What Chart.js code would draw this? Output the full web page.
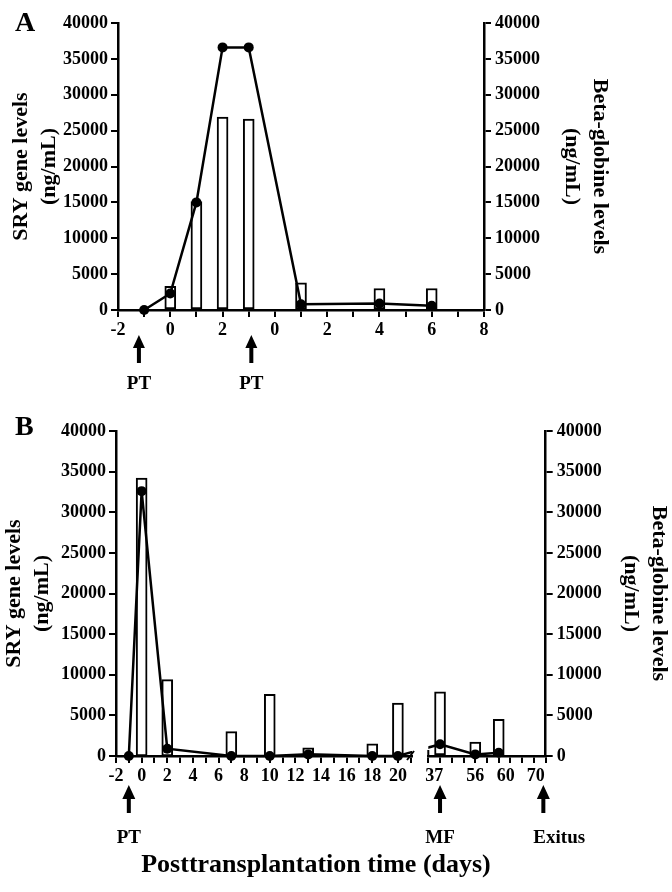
<!DOCTYPE html>
<html><head><meta charset="utf-8">
<script src="https://cdn.jsdelivr.net/npm/chart.js@4.4.1/dist/chart.umd.min.js"></script>
<style>
html,body{margin:0;padding:0;background:#fff;}
#wrap{position:relative;width:672px;height:892px;overflow:hidden;background:#fff;font-family:"Liberation Serif","Times New Roman",serif;font-weight:bold;color:#000;}
canvas{position:absolute;left:0;}
.lbl{position:absolute;line-height:1;white-space:nowrap;}
</style></head><body>
<div id="wrap">
<canvas id="cA" width="672" height="400" style="top:0"></canvas>
<canvas id="cB1" width="672" height="492" style="top:400px"></canvas>
<canvas id="cB2" width="672" height="492" style="top:400px"></canvas>
<div class="lbl" style="left:15px;top:8px;font-size:28px">A</div>
<div class="lbl" style="left:15px;top:412px;font-size:28px">B</div>
<div class="lbl" style="left:0;width:632px;text-align:center;top:851px;font-size:26px">Posttransplantation time (days)</div>
</div>
<script>
// ---------- Panel A ----------
const A_days = [-1, 0, 1, 2, 3, 5, 8, 10];
const A_sry = [0, 2300, 15000, 36600, 36600, 800, 900, 600];
const A_barDays = [0, 1, 2, 3, 5, 8, 10];
const A_beta = [3300, 15100, 26900, 26600, 3800, 3000, 3000];
const A_tickValues = [-2, 0, 2, 4, 6, 8, 10, 12];
const A_tickLabels = ['-2', '0', '2', '0', '2', '4', '6', '8'];
const A_eventDays = [-1.2, 3.1];
const A_eventLabels = ['PT', 'PT'];

// ---------- Panel B, left segment (days) ----------
const B1_days = [-1, 0, 2, 7, 10, 13, 18, 20];
const B1_sry = [0, 32600, 900, 0, 0, 200, 0, 0];
const B1_barDays = [0, 2, 7, 10, 13, 18, 20];
const B1_beta = [34200, 9400, 3000, 7600, 1000, 1500, 6500];
const B1_tickValues = [-2, 0, 2, 4, 6, 8, 10, 12, 14, 16, 18, 20];
const B1_eventDays = [-1];
const B1_eventLabels = ['PT'];

// ---------- Panel B, right (compressed) segment: positions on its own axis ----------
const B2_pos = [1, 4, 6];            // days 37, 56, 60
const B2_sry = [1450, 200, 400];
const B2_beta = [7900, 1700, 4500];
const B2_tickValues = [0.5, 4, 6.6, 9.15];
const B2_tickLabels = ['37', '56', '60', '70'];
const B2_eventPos = [1, 9.8];
const B2_eventLabels = ['MF', 'Exitus'];

const FONT = '"Liberation Serif", "Times New Roman", serif';
Chart.defaults.font.family = FONT;
Chart.defaults.font.weight = 'bold';
Chart.defaults.color = '#000';

// annotation settings kept outside the option resolver
const ANNOT = {};

const annotPlugin = {
  id: 'annot',
  afterDraw(chart) {
    const o = ANNOT[chart.canvas.id];
    if (!o) return;
    const ctx = chart.ctx, xs = chart.scales.x;
    const {bottom, left, right} = chart.chartArea;
    ctx.save();
    ctx.fillStyle = '#000'; ctx.strokeStyle = '#000';
    o.marks.forEach(m => {
      const px = xs.getPixelForValue(m.x);
      const tip = bottom + o.tip, end = bottom + o.tip + o.len;
      const hw = o.headW / 2, hh = o.headH, sw = o.shaftW / 2;
      ctx.beginPath();
      ctx.moveTo(px, tip);
      ctx.lineTo(px + hw, tip + hh);
      ctx.lineTo(px + sw, tip + hh);
      ctx.lineTo(px + sw, end);
      ctx.lineTo(px - sw, end);
      ctx.lineTo(px - sw, tip + hh);
      ctx.lineTo(px - hw, tip + hh);
      ctx.closePath();
      ctx.fill();
      ctx.font = 'bold 19px ' + FONT;
      ctx.textAlign = m.align;
      ctx.textBaseline = 'middle';
      ctx.fillText(m.text, px + m.shift, bottom + o.labelY);
    });
    ctx.lineWidth = 2;
    if (o.breakEnd) {
      ctx.beginPath();
      ctx.moveTo(right - 5, bottom + 4);
      ctx.lineTo(right + 2, bottom - 5);
      ctx.stroke();
    }
    if (o.breakStart) {
      ctx.beginPath();
      ctx.moveTo(left, bottom - 6);
      ctx.lineTo(left, bottom);
      ctx.stroke();
    }
    ctx.restore();
  }
};

function yAxis(pos, width, lines, padTop, display) {
  return {
    type: 'linear', position: pos, display: display, min: 0, max: 40000,
    ticks: { stepSize: 5000, padding: pos === 'left' ? 3 : 4, color: '#000',
             font: { size: 18, weight: 'bold' }, callback: v => String(v) },
    grid: { drawOnChartArea: false, drawTicks: true, tickLength: 7, tickWidth: 2,
            tickColor: '#000', color: '#000', lineWidth: 2 },
    border: { display: true, color: '#000', width: 2.5 },
    title: { display: true, text: lines, color: '#000',
             font: { size: 22, weight: 'bold', lineHeight: 1.25 },
             padding: { top: padTop, bottom: 0 } },
    afterFit: s => { s.width = width; }
  };
}

function xAxis(min, max, height, labelFn, extra) {
  return Object.assign({
    type: 'linear', position: 'bottom', min: min, max: max, offset: false,
    ticks: { stepSize: 1, includeBounds: false, autoSkip: false, maxRotation: 0, minRotation: 0,
             padding: 3, color: '#000', font: { size: 18, weight: 'bold' }, callback: labelFn },
    grid: { offset: false, drawOnChartArea: false, drawTicks: true, tickLength: 7, tickWidth: 2,
            tickColor: '#000', color: '#000', lineWidth: 2 },
    border: { display: true, color: '#000', width: 2.5 },
    afterFit: s => { s.height = height; }
  }, extra || {});
}

function lineDS(xs, ys, clip) {
  return { type: 'line', data: xs.map((x, i) => ({ x: x, y: ys[i] })), yAxisID: 'yL', order: 0,
           borderColor: '#000', borderWidth: 2.5, pointRadius: 5, pointBackgroundColor: '#000',
           pointBorderColor: '#000', pointBorderWidth: 0, tension: 0, fill: false, clip: clip };
}
function barDS(xs, ys) {
  return { type: 'bar', data: xs.map((x, i) => ({ x: x, y: ys[i] })), yAxisID: 'yR', order: 1,
           backgroundColor: '#fff', borderColor: '#000', borderWidth: 2, borderSkipped: false,
           barThickness: 11, clip: false };
}
function lookup(vals, labels) {
  return v => { const i = vals.findIndex(u => Math.abs(u - v) < 1e-6); return i >= 0 ? labels[i] : ''; };
}
function marks(xs, labels, styles) {
  return xs.map((x, i) => Object.assign({ x: x, text: labels[i], align: 'center', shift: 0 }, (styles && styles[i]) || {}));
}
const baseOpts = { responsive: false, animation: false, devicePixelRatio: 1, events: [] };
const noPlugins = { legend: { display: false }, tooltip: { enabled: false } };

ANNOT.cA = { marks: marks(A_eventDays, A_eventLabels), tip: 25, len: 28, headW: 12, headH: 13, shaftW: 4, labelY: 74 };
ANNOT.cB1 = { marks: marks(B1_eventDays, B1_eventLabels), tip: 29, len: 28, headW: 13, headH: 14, shaftW: 4, labelY: 82, breakEnd: true };
ANNOT.cB2 = { marks: marks(B2_eventPos, B2_eventLabels, [{}, { align: 'left', shift: -10 }]),
              tip: 29, len: 28, headW: 13, headH: 14, shaftW: 4, labelY: 82, breakStart: true };

// Panel A
const chartA = new Chart(document.getElementById('cA'), {
  type: 'line',
  data: { datasets: [lineDS(A_days, A_sry, false), barDS(A_barDays, A_beta)] },
  options: Object.assign({}, baseOpts, {
    layout: { padding: { top: 23, left: 0, right: 0, bottom: 0 } },
    scales: {
      x: xAxis(-2, 12, 90, lookup(A_tickValues, A_tickLabels)),
      yL: yAxis('left', 118, ['SRY gene levels', '(ng/mL)'], 8, true),
      yR: yAxis('right', 188, ['Beta-globine levels', '(ng/mL)'], 59, true)
    },
    plugins: noPlugins
  }),
  plugins: [annotPlugin]
});

// Panel B left segment
const chartB1 = new Chart(document.getElementById('cB1'), {
  type: 'line',
  data: { datasets: [lineDS(B1_days, B1_sry, { left: 0, right: 0, top: false, bottom: false }), barDS(B1_barDays, B1_beta)] },
  options: Object.assign({}, baseOpts, {
    layout: { padding: { top: 31, left: 0, right: 260, bottom: 0 } },
    scales: {
      x: xAxis(-2, 21.1, 136, lookup(B1_tickValues, B1_tickValues.map(String))),
      yL: yAxis('left', 116, ['SRY gene levels', '(ng/mL)'], 1, true),
      yR: yAxis('right', 0, ['Beta-globine levels', '(ng/mL)'], 0, false)
    },
    plugins: noPlugins
  }),
  plugins: [annotPlugin]
});

// Panel B right (compressed) segment
const chartB2 = new Chart(document.getElementById('cB2'), {
  type: 'line',
  data: { datasets: [lineDS(B2_pos, B2_sry, { left: 0, right: 0, top: false, bottom: false }), barDS(B2_pos, B2_beta)] },
  options: Object.assign({}, baseOpts, {
    layout: { padding: { top: 31, left: 428.3, right: 0, bottom: 0 } },
    scales: {
      x: xAxis(0, 10, 136, lookup(B2_tickValues, B2_tickLabels), {
        afterBuildTicks: s => {
          const vals = [];
          for (let k = s.min; k <= s.max; k++) vals.push(k);
          B2_tickValues.forEach(v => { if (!vals.some(u => Math.abs(u - v) < 1e-6)) vals.push(v); });
          vals.sort((a, b) => a - b);
          s.ticks = vals.map(v => ({ value: v }));
        }
      }),
      yL: yAxis('left', 0, ['SRY gene levels', '(ng/mL)'], 0, false),
      yR: yAxis('right', 126.3, ['Beta-globine levels', '(ng/mL)'], 0, true)
    },
    plugins: noPlugins
  }),
  plugins: [annotPlugin]
});
chartB2.options.scales.x.grid.tickColor = c => (c.tick && Number.isInteger(c.tick.value)) ? '#000' : 'rgba(0,0,0,0)';
chartB2.update('none');

// Continue the line across the axis break using both segments' scales
const pxNext = chartB2.scales.x.getPixelForValue(B2_pos[0]);
chartB1.data.datasets[0].data.push({ x: chartB1.scales.x.getValueForPixel(pxNext), y: B2_sry[0] });
chartB1.update('none');
const last = B1_days.length - 1;
const pxPrev = chartB1.scales.x.getPixelForValue(B1_days[last]);
chartB2.data.datasets[0].data.unshift({ x: chartB2.scales.x.getValueForPixel(pxPrev), y: B1_sry[last] });
chartB2.update('none');
</script>
</body></html>
